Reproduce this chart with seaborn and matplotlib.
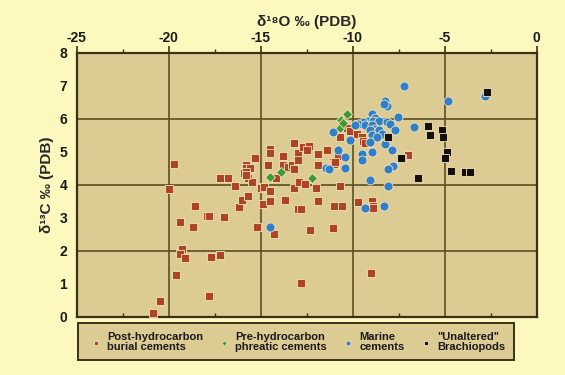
import numpy as np
import pandas as pd
import matplotlib
matplotlib.use("Agg")
import matplotlib.pyplot as plt
import seaborn as sns
from matplotlib.ticker import MultipleLocator

# ---------------- data ----------------
post_x = [-20.0, -18.6, -19.4, -18.7, -17.9, -17.8, -17.0, -19.3, -19.4, -19.1, -17.7, -17.2,
          -19.6, -20.5, -20.85, -17.8, -12.8, -15.2, -14.3, -16.2, -16.0, -15.7, -16.4, -17.2,
          -16.8, -15.9, -15.7, -15.5, -15.0, -14.8, -14.5, -14.9, -14.5, -13.7, -13.2, -12.9,
          -12.6, -13.0, -12.8, -12.3, -19.7, -15.8, -15.8, -15.6, -15.8, -15.8, -15.3, -14.5,
          -14.5, -14.6, -14.2, -13.8, -13.8, -13.5, -13.3, -13.2, -13.0, -13.0, -13.2, -12.7,
          -12.4, -12.5, -11.9, -11.4, -11.9, -11.1, -11.0, -10.7, -12.0, -11.9, -11.0, -10.6,
          -11.1, -10.3, -10.15, -9.78, -9.51, -9.42, -9.33, -10.69, -10.78, -10.96, -10.69,
          -9.69, -8.97, -8.88, -8.88, -7.01, -7.34, -9.0]
post_y = [3.88, 3.36, 2.87, 2.71, 3.07, 3.07, 3.02, 2.06, 1.91, 1.78, 1.82, 1.86,
          1.26, 0.49, 0.13, 0.62, 1.04, 2.71, 2.52, 3.34, 3.55, 3.67, 3.97, 4.2,
          4.2, 4.35, 4.2, 4.09, 3.9, 3.93, 3.8, 3.41, 3.52, 3.55, 3.9, 4.08,
          4.02, 3.26, 3.26, 2.64, 4.64, 4.6, 4.5, 4.52, 4.4, 4.3, 4.81, 5.1,
          4.96, 4.6, 4.2, 4.86, 4.6, 4.55, 4.6, 5.28, 4.98, 4.74, 4.48, 5.16,
          5.18, 5.06, 4.94, 5.06, 4.6, 4.7, 4.64, 5.46, 3.9, 3.5, 3.36, 3.36,
          2.7, 5.72, 5.64, 5.54, 5.44, 5.33, 5.28, 5.44, 4.88, 4.68, 3.97,
          3.47, 3.52, 3.36, 3.3, 4.91, 4.81, 1.34]

pre_x = [-14.5, -13.9, -12.2, -10.3, -10.65, -10.7, -10.55]
pre_y = [4.25, 4.38, 4.2, 6.14, 5.97, 5.72, 5.87]

marine_x = [-14.5, -7.19, -4.84, -8.24, -8.15, -8.33, -8.97, -8.79, -9.15, -8.88, -8.6,
            -9.42, -9.69, -9.87, -9.33, -8.97, -8.15, -7.97, -7.52, -8.79, -9.06, -8.6,
            -8.42, -7.7, -6.65, -8.97, -8.7, -10.15, -9.06, -8.24, -7.88, -8.97, -9.51,
            -9.51, -10.78, -10.42, -11.05, -7.79, -8.06, -9.06, -8.06, -10.45, -8.33,
            -9.33, -2.84, -11.45, -11.3]
marine_y = [2.72, 7.0, 6.55, 6.55, 6.4, 6.45, 6.14, 6.04, 5.94, 5.94, 5.94,
            5.9, 5.85, 5.8, 5.8, 5.8, 5.9, 5.85, 6.05, 5.7, 5.65, 5.65,
            5.55, 5.65, 5.75, 5.5, 5.45, 5.35, 5.3, 5.25, 5.05, 5.0, 4.95,
            4.76, 5.05, 4.85, 5.6, 4.58, 4.48, 4.15, 3.97, 4.5, 3.36,
            3.31, 6.68, 4.5, 4.47]

brach_x = [-8.1, -7.38, -5.92, -5.8, -5.16, -5.11, -4.89, -4.98, -6.47, -4.66, -3.9, -3.63, -2.72]
brach_y = [5.45, 4.81, 5.77, 5.5, 5.67, 5.45, 4.99, 4.82, 4.2, 4.41, 4.38, 4.38, 6.8]

groups = ["Post-hydrocarbon\nburial cements", "Pre-hydrocarbon\nphreatic cements",
          "Marine\ncements", "\"Unaltered\"\nBrachiopods"]
x_ticks = [-25, -20, -15, -10, -5, 0]
y_ticks = [0, 1, 2, 3, 4, 5, 6, 7, 8]

df = pd.concat([
    pd.DataFrame({"d18O": post_x, "d13C": post_y, "group": groups[0]}),
    pd.DataFrame({"d18O": pre_x, "d13C": pre_y, "group": groups[1]}),
    pd.DataFrame({"d18O": marine_x, "d13C": marine_y, "group": groups[2]}),
    pd.DataFrame({"d18O": brach_x, "d13C": brach_y, "group": groups[3]}),
], ignore_index=True)

# ---------------- style ----------------
sns.set_style("white")
plt.rcParams["font.family"] = ["Liberation Sans", "DejaVu Sans"]
plt.rcParams["font.weight"] = "bold"

outer_bg = "#FDF8BE"
plot_bg = "#DCCB93"
dark = "#3A3214"
grid_c = "#5C4E26"

palette = {groups[0]: "#AE4426", groups[1]: "#3C9A34",
           groups[2]: "#2F7FCC", groups[3]: "#141008"}
markers = {groups[0]: "s", groups[1]: "D", groups[2]: "o", groups[3]: "s"}

fig = plt.figure(figsize=(5.65, 3.75), dpi=100, facecolor=outer_bg)
ax = fig.add_axes([0.136, 0.155, 0.814, 0.704])
ax.set_facecolor(plot_bg)

sizes = {groups[0]: 32, groups[1]: 26, groups[2]: 42, groups[3]: 32}
for g in groups:
    sub = df[df["group"] == g]
    sns.scatterplot(data=sub, x="d18O", y="d13C", color=palette[g], marker=markers[g],
                    s=sizes[g], edgecolor="#F3E4B8", linewidth=0.6, ax=ax, zorder=3,
                    label=g)

ax.set_xlim(-25, 0)
ax.set_ylim(0, 8)
ax.set_xticks(x_ticks)
ax.set_xticklabels([str(v) for v in x_ticks])
ax.set_yticks(y_ticks)
ax.xaxis.set_minor_locator(MultipleLocator(2.5))
ax.yaxis.set_minor_locator(MultipleLocator(0.5))
ax.xaxis.tick_top()
ax.xaxis.set_label_position("top")
ax.tick_params(axis="x", which="major", length=5, width=1.2, color=dark, labelsize=10,
               pad=1, labelcolor="#1a1a1a")
ax.tick_params(axis="x", which="minor", length=3, width=1.0, color=dark)
ax.tick_params(axis="y", which="major", length=5, width=1.2, color=dark, labelsize=10,
               pad=2, labelcolor="#1a1a1a")
ax.tick_params(axis="y", which="minor", length=3, width=1.0, color=dark)
ax.tick_params(axis="both", direction="out")
for lab in ax.get_xticklabels() + ax.get_yticklabels():
    lab.set_fontweight("bold")

ax.set_xlabel("δ¹⁸O ‰ (PDB)", fontsize=11, fontweight="bold", labelpad=3)
ax.set_ylabel("δ¹³C ‰ (PDB)", fontsize=11, fontweight="bold", labelpad=4)

for v in [-20, -15, -10, -5]:
    ax.axvline(v, color=grid_c, lw=1.2, zorder=1)
for v in [2, 4, 6]:
    ax.axhline(v, color=grid_c, lw=1.2, zorder=1)

for sp in ax.spines.values():
    sp.set_visible(True)
    sp.set_color(dark)
    sp.set_linewidth(1.6)

# bottom inward minor ticks
sec = ax.secondary_xaxis("bottom")
sec.set_xticks([-22.5, -17.5, -12.5, -7.5, -2.5])
sec.set_xticklabels([])
sec.tick_params(direction="in", length=3, width=1.0, color=dark)
sec.spines["bottom"].set_visible(False)

leg = ax.legend(loc="lower left", bbox_to_anchor=(0.129, 0.024, 0.79, 0.1),
                bbox_transform=fig.transFigure, mode="expand", ncol=4,
                frameon=True, fancybox=False, fontsize=8, handletextpad=0.2,
                columnspacing=0.6, borderpad=0.75, handlelength=1.6,
                markerscale=0.55, labelspacing=0.2)
leg.get_frame().set_facecolor(plot_bg)
leg.get_frame().set_edgecolor(dark)
leg.get_frame().set_linewidth(1.4)
leg.get_frame().set_alpha(1)
for t in leg.get_texts():
    t.set_fontweight("bold")
    t.set_color("#1a1a1a")
    t.set_linespacing(1.05)

fig.savefig("out.png", dpi=100, facecolor=outer_bg)
